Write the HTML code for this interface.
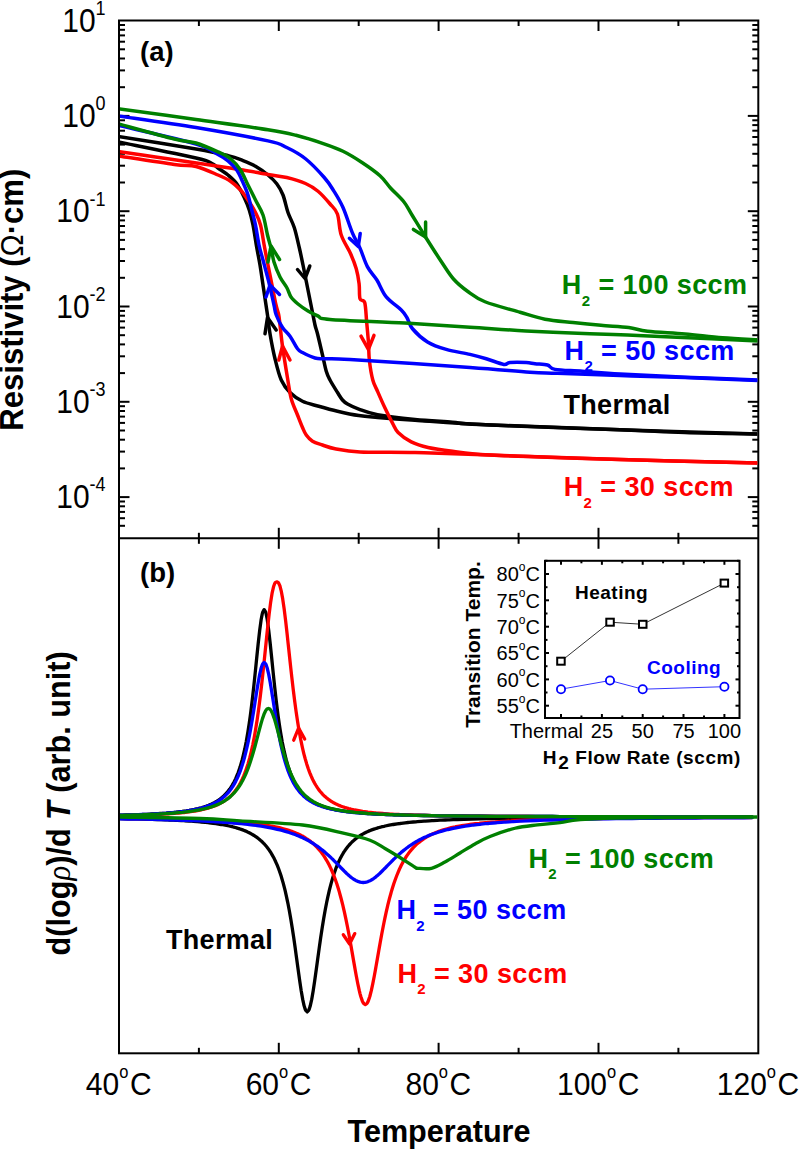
<!DOCTYPE html><html><head><meta charset="utf-8"><style>html,body{margin:0;padding:0;background:#fff;}svg{display:block;}text{font-family:"Liberation Sans",sans-serif;}</style></head><body>
<svg width="800" height="1150" viewBox="0 0 800 1150">
<rect width="800" height="1150" fill="#fff"/>
<defs><clipPath id="ca"><rect x="120.0" y="21.5" width="637.3" height="515.8"/></clipPath>
<clipPath id="cb"><rect x="120.0" y="539.3" width="637.3" height="513.0"/></clipPath></defs>
<g fill="none" stroke="#000" stroke-width="2">
<rect x="119.0" y="20.5" width="639.3" height="1032.8"/>
<line x1="119.0" y1="538.3" x2="758.3" y2="538.3"/>
<line x1="198.9" y1="20.5" x2="198.9" y2="26.0"/>
<line x1="198.9" y1="538.3" x2="198.9" y2="532.8"/>
<line x1="198.9" y1="538.3" x2="198.9" y2="543.8"/>
<line x1="198.9" y1="1053.3" x2="198.9" y2="1047.8"/>
<line x1="278.8" y1="20.5" x2="278.8" y2="31.0"/>
<line x1="278.8" y1="538.3" x2="278.8" y2="527.8"/>
<line x1="278.8" y1="538.3" x2="278.8" y2="548.8"/>
<line x1="278.8" y1="1053.3" x2="278.8" y2="1042.8"/>
<line x1="358.7" y1="20.5" x2="358.7" y2="26.0"/>
<line x1="358.7" y1="538.3" x2="358.7" y2="532.8"/>
<line x1="358.7" y1="538.3" x2="358.7" y2="543.8"/>
<line x1="358.7" y1="1053.3" x2="358.7" y2="1047.8"/>
<line x1="438.6" y1="20.5" x2="438.6" y2="31.0"/>
<line x1="438.6" y1="538.3" x2="438.6" y2="527.8"/>
<line x1="438.6" y1="538.3" x2="438.6" y2="548.8"/>
<line x1="438.6" y1="1053.3" x2="438.6" y2="1042.8"/>
<line x1="518.6" y1="20.5" x2="518.6" y2="26.0"/>
<line x1="518.6" y1="538.3" x2="518.6" y2="532.8"/>
<line x1="518.6" y1="538.3" x2="518.6" y2="543.8"/>
<line x1="518.6" y1="1053.3" x2="518.6" y2="1047.8"/>
<line x1="598.5" y1="20.5" x2="598.5" y2="31.0"/>
<line x1="598.5" y1="538.3" x2="598.5" y2="527.8"/>
<line x1="598.5" y1="538.3" x2="598.5" y2="548.8"/>
<line x1="598.5" y1="1053.3" x2="598.5" y2="1042.8"/>
<line x1="678.4" y1="20.5" x2="678.4" y2="26.0"/>
<line x1="678.4" y1="538.3" x2="678.4" y2="532.8"/>
<line x1="678.4" y1="538.3" x2="678.4" y2="543.8"/>
<line x1="678.4" y1="1053.3" x2="678.4" y2="1047.8"/>
<line x1="119.0" y1="87.2" x2="125.0" y2="87.2"/>
<line x1="758.3" y1="87.2" x2="752.3" y2="87.2"/>
<line x1="119.0" y1="70.4" x2="125.0" y2="70.4"/>
<line x1="758.3" y1="70.4" x2="752.3" y2="70.4"/>
<line x1="119.0" y1="58.5" x2="125.0" y2="58.5"/>
<line x1="758.3" y1="58.5" x2="752.3" y2="58.5"/>
<line x1="119.0" y1="49.3" x2="125.0" y2="49.3"/>
<line x1="758.3" y1="49.3" x2="752.3" y2="49.3"/>
<line x1="119.0" y1="41.7" x2="125.0" y2="41.7"/>
<line x1="758.3" y1="41.7" x2="752.3" y2="41.7"/>
<line x1="119.0" y1="35.4" x2="125.0" y2="35.4"/>
<line x1="758.3" y1="35.4" x2="752.3" y2="35.4"/>
<line x1="119.0" y1="29.8" x2="125.0" y2="29.8"/>
<line x1="758.3" y1="29.8" x2="752.3" y2="29.8"/>
<line x1="119.0" y1="25.0" x2="125.0" y2="25.0"/>
<line x1="758.3" y1="25.0" x2="752.3" y2="25.0"/>
<line x1="119.0" y1="115.9" x2="129.5" y2="115.9"/>
<line x1="758.3" y1="115.9" x2="747.8" y2="115.9"/>
<line x1="119.0" y1="182.5" x2="125.0" y2="182.5"/>
<line x1="758.3" y1="182.5" x2="752.3" y2="182.5"/>
<line x1="119.0" y1="165.7" x2="125.0" y2="165.7"/>
<line x1="758.3" y1="165.7" x2="752.3" y2="165.7"/>
<line x1="119.0" y1="153.8" x2="125.0" y2="153.8"/>
<line x1="758.3" y1="153.8" x2="752.3" y2="153.8"/>
<line x1="119.0" y1="144.6" x2="125.0" y2="144.6"/>
<line x1="758.3" y1="144.6" x2="752.3" y2="144.6"/>
<line x1="119.0" y1="137.0" x2="125.0" y2="137.0"/>
<line x1="758.3" y1="137.0" x2="752.3" y2="137.0"/>
<line x1="119.0" y1="130.7" x2="125.0" y2="130.7"/>
<line x1="758.3" y1="130.7" x2="752.3" y2="130.7"/>
<line x1="119.0" y1="125.1" x2="125.0" y2="125.1"/>
<line x1="758.3" y1="125.1" x2="752.3" y2="125.1"/>
<line x1="119.0" y1="120.3" x2="125.0" y2="120.3"/>
<line x1="758.3" y1="120.3" x2="752.3" y2="120.3"/>
<line x1="119.0" y1="211.2" x2="129.5" y2="211.2"/>
<line x1="758.3" y1="211.2" x2="747.8" y2="211.2"/>
<line x1="119.0" y1="277.8" x2="125.0" y2="277.8"/>
<line x1="758.3" y1="277.8" x2="752.3" y2="277.8"/>
<line x1="119.0" y1="261.0" x2="125.0" y2="261.0"/>
<line x1="758.3" y1="261.0" x2="752.3" y2="261.0"/>
<line x1="119.0" y1="249.1" x2="125.0" y2="249.1"/>
<line x1="758.3" y1="249.1" x2="752.3" y2="249.1"/>
<line x1="119.0" y1="239.9" x2="125.0" y2="239.9"/>
<line x1="758.3" y1="239.9" x2="752.3" y2="239.9"/>
<line x1="119.0" y1="232.3" x2="125.0" y2="232.3"/>
<line x1="758.3" y1="232.3" x2="752.3" y2="232.3"/>
<line x1="119.0" y1="226.0" x2="125.0" y2="226.0"/>
<line x1="758.3" y1="226.0" x2="752.3" y2="226.0"/>
<line x1="119.0" y1="220.4" x2="125.0" y2="220.4"/>
<line x1="758.3" y1="220.4" x2="752.3" y2="220.4"/>
<line x1="119.0" y1="215.6" x2="125.0" y2="215.6"/>
<line x1="758.3" y1="215.6" x2="752.3" y2="215.6"/>
<line x1="119.0" y1="306.5" x2="129.5" y2="306.5"/>
<line x1="758.3" y1="306.5" x2="747.8" y2="306.5"/>
<line x1="119.0" y1="373.1" x2="125.0" y2="373.1"/>
<line x1="758.3" y1="373.1" x2="752.3" y2="373.1"/>
<line x1="119.0" y1="356.3" x2="125.0" y2="356.3"/>
<line x1="758.3" y1="356.3" x2="752.3" y2="356.3"/>
<line x1="119.0" y1="344.4" x2="125.0" y2="344.4"/>
<line x1="758.3" y1="344.4" x2="752.3" y2="344.4"/>
<line x1="119.0" y1="335.2" x2="125.0" y2="335.2"/>
<line x1="758.3" y1="335.2" x2="752.3" y2="335.2"/>
<line x1="119.0" y1="327.6" x2="125.0" y2="327.6"/>
<line x1="758.3" y1="327.6" x2="752.3" y2="327.6"/>
<line x1="119.0" y1="321.3" x2="125.0" y2="321.3"/>
<line x1="758.3" y1="321.3" x2="752.3" y2="321.3"/>
<line x1="119.0" y1="315.7" x2="125.0" y2="315.7"/>
<line x1="758.3" y1="315.7" x2="752.3" y2="315.7"/>
<line x1="119.0" y1="310.9" x2="125.0" y2="310.9"/>
<line x1="758.3" y1="310.9" x2="752.3" y2="310.9"/>
<line x1="119.0" y1="401.8" x2="129.5" y2="401.8"/>
<line x1="758.3" y1="401.8" x2="747.8" y2="401.8"/>
<line x1="119.0" y1="468.4" x2="125.0" y2="468.4"/>
<line x1="758.3" y1="468.4" x2="752.3" y2="468.4"/>
<line x1="119.0" y1="451.6" x2="125.0" y2="451.6"/>
<line x1="758.3" y1="451.6" x2="752.3" y2="451.6"/>
<line x1="119.0" y1="439.7" x2="125.0" y2="439.7"/>
<line x1="758.3" y1="439.7" x2="752.3" y2="439.7"/>
<line x1="119.0" y1="430.5" x2="125.0" y2="430.5"/>
<line x1="758.3" y1="430.5" x2="752.3" y2="430.5"/>
<line x1="119.0" y1="422.9" x2="125.0" y2="422.9"/>
<line x1="758.3" y1="422.9" x2="752.3" y2="422.9"/>
<line x1="119.0" y1="416.6" x2="125.0" y2="416.6"/>
<line x1="758.3" y1="416.6" x2="752.3" y2="416.6"/>
<line x1="119.0" y1="411.0" x2="125.0" y2="411.0"/>
<line x1="758.3" y1="411.0" x2="752.3" y2="411.0"/>
<line x1="119.0" y1="406.2" x2="125.0" y2="406.2"/>
<line x1="758.3" y1="406.2" x2="752.3" y2="406.2"/>
<line x1="119.0" y1="497.1" x2="129.5" y2="497.1"/>
<line x1="758.3" y1="497.1" x2="747.8" y2="497.1"/>
<line x1="119.0" y1="525.8" x2="125.0" y2="525.8"/>
<line x1="758.3" y1="525.8" x2="752.3" y2="525.8"/>
<line x1="119.0" y1="518.2" x2="125.0" y2="518.2"/>
<line x1="758.3" y1="518.2" x2="752.3" y2="518.2"/>
<line x1="119.0" y1="511.9" x2="125.0" y2="511.9"/>
<line x1="758.3" y1="511.9" x2="752.3" y2="511.9"/>
<line x1="119.0" y1="506.3" x2="125.0" y2="506.3"/>
<line x1="758.3" y1="506.3" x2="752.3" y2="506.3"/>
<line x1="119.0" y1="501.5" x2="125.0" y2="501.5"/>
<line x1="758.3" y1="501.5" x2="752.3" y2="501.5"/>
</g>
<g clip-path="url(#ca)" fill="none" stroke-width="3.5" stroke-linejoin="round" stroke-linecap="round">
<path d="M119.00,142.00 C131.83,144.67 180.50,154.42 196.00,158.00 C211.50,161.58 208.33,161.83 212.00,163.50 C215.67,165.17 215.33,166.08 218.00,168.00 C220.67,169.92 224.88,172.38 228.00,175.00 C231.12,177.62 234.04,180.00 236.75,183.75 C239.46,187.50 242.17,193.12 244.25,197.50 C246.33,201.88 247.79,205.42 249.25,210.00 C250.71,214.58 251.75,218.75 253.00,225.00 C254.25,231.25 255.58,240.83 256.75,247.50 C257.92,254.17 258.96,258.75 260.00,265.00 C261.04,271.25 262.00,278.33 263.00,285.00 C264.00,291.67 265.25,300.00 266.00,305.00 C266.75,310.00 266.83,310.21 267.50,315.00 C268.17,319.79 268.75,326.46 270.00,333.75 C271.25,341.04 273.12,351.04 275.00,358.75 C276.88,366.46 278.75,374.38 281.25,380.00 C283.75,385.62 286.46,388.96 290.00,392.50 C293.54,396.04 297.71,398.96 302.50,401.25 C307.29,403.54 312.92,404.58 318.75,406.25 C324.58,407.92 330.83,409.69 337.50,411.25 C344.17,412.81 352.08,414.56 358.75,415.60 C365.42,416.64 368.12,416.72 377.50,417.50 C386.88,418.28 396.25,419.05 415.00,420.30 C433.75,421.55 455.83,423.43 490.00,425.00 C524.17,426.57 575.33,428.25 620.00,429.75 C664.67,431.25 735.00,433.29 758.00,434.00" stroke="#000000"/>
<path d="M119.00,136.50 C131.83,138.58 177.83,145.82 196.00,149.00 C214.17,152.18 220.17,153.67 228.00,155.60 C235.83,157.53 238.42,158.82 243.00,160.60 C247.58,162.38 251.33,163.85 255.50,166.25 C259.67,168.65 264.46,172.08 268.00,175.00 C271.54,177.92 274.25,180.42 276.75,183.75 C279.25,187.08 281.12,190.21 283.00,195.00 C284.88,199.79 286.12,207.08 288.00,212.50 C289.88,217.92 292.38,221.67 294.25,227.50 C296.12,233.33 297.79,241.25 299.25,247.50 C300.71,253.75 301.96,260.00 303.00,265.00 C304.04,270.00 304.75,273.75 305.50,277.50 C306.25,281.25 306.42,282.08 307.50,287.50 C308.58,292.92 310.75,303.75 312.00,310.00 C313.25,316.25 314.08,321.04 315.00,325.00 C315.92,328.96 316.25,328.75 317.50,333.75 C318.75,338.75 321.04,348.75 322.50,355.00 C323.96,361.25 325.00,367.08 326.25,371.25 C327.50,375.42 328.12,376.46 330.00,380.00 C331.88,383.54 335.42,389.17 337.50,392.50 C339.58,395.83 340.83,398.08 342.50,400.00 C344.17,401.92 344.79,402.48 347.50,404.00 C350.21,405.52 353.75,407.32 358.75,409.10 C363.75,410.88 368.12,412.98 377.50,414.70 C386.88,416.42 402.50,418.15 415.00,419.40 C427.50,420.65 441.67,421.35 452.50,422.20 C463.33,423.05 452.08,423.24 480.00,424.50 C507.92,425.76 585.83,428.42 620.00,429.75 C654.17,431.08 662.00,431.79 685.00,432.50 C708.00,433.21 745.83,433.75 758.00,434.00" stroke="#000000"/>
<path d="M119.00,156.00 C128.22,157.40 161.47,162.65 174.30,164.40 C187.13,166.15 188.72,164.73 196.00,166.50 C203.28,168.27 212.25,172.54 218.00,175.00 C223.75,177.46 226.75,178.75 230.50,181.25 C234.25,183.75 237.58,186.88 240.50,190.00 C243.42,193.12 245.50,196.25 248.00,200.00 C250.50,203.75 253.42,208.33 255.50,212.50 C257.58,216.67 259.00,219.25 260.50,225.00 C262.00,230.75 263.25,240.33 264.50,247.00 C265.75,253.67 266.75,258.67 268.00,265.00 C269.25,271.33 270.67,278.33 272.00,285.00 C273.33,291.67 274.88,300.00 276.00,305.00 C277.12,310.00 278.08,311.67 278.75,315.00 C279.42,318.33 279.38,319.79 280.00,325.00 C280.62,330.21 281.25,337.42 282.50,346.25 C283.75,355.08 286.04,369.25 287.50,378.00 C288.96,386.75 289.58,392.58 291.25,398.75 C292.92,404.92 295.62,410.21 297.50,415.00 C299.38,419.79 301.04,424.17 302.50,427.50 C303.96,430.83 304.58,432.71 306.25,435.00 C307.92,437.29 309.79,439.58 312.50,441.25 C315.21,442.92 318.75,443.75 322.50,445.00 C326.25,446.25 328.75,447.60 335.00,448.75 C341.25,449.90 346.67,451.29 360.00,451.90 C373.33,452.51 393.33,451.88 415.00,452.40 C436.67,452.92 455.83,453.82 490.00,455.00 C524.17,456.18 575.33,458.17 620.00,459.50 C664.67,460.83 735.00,462.42 758.00,463.00" stroke="#ff0000"/>
<path d="M119.00,151.50 C125.08,152.40 143.17,155.07 155.50,156.90 C167.83,158.73 182.58,160.94 193.00,162.50 C203.42,164.06 209.67,165.00 218.00,166.25 C226.33,167.50 234.67,168.62 243.00,170.00 C251.33,171.38 260.71,173.25 268.00,174.50 C275.29,175.75 280.50,176.00 286.75,177.50 C293.00,179.00 300.29,181.21 305.50,183.50 C310.71,185.79 313.93,187.88 318.00,191.25 C322.07,194.62 326.67,199.96 329.90,203.75 C333.13,207.54 335.51,208.79 337.40,214.00 C339.29,219.21 339.05,228.38 341.25,235.00 C343.45,241.62 348.10,248.12 350.60,253.75 C353.10,259.38 354.83,263.75 356.25,268.75 C357.67,273.75 358.48,278.75 359.10,283.75 C359.73,288.75 359.07,295.62 360.00,298.75 C360.93,301.88 363.60,298.75 364.70,302.50 C365.80,306.25 365.98,314.68 366.60,321.25 C367.22,327.82 367.93,335.34 368.40,341.90 C368.87,348.46 368.67,354.25 369.40,360.60 C370.13,366.95 371.45,374.89 372.80,380.00 C374.15,385.11 375.47,386.57 377.50,391.25 C379.53,395.93 382.50,402.79 385.00,408.10 C387.50,413.41 390.32,419.03 392.50,423.10 C394.68,427.17 394.98,429.37 398.10,432.50 C401.23,435.63 406.25,439.40 411.25,441.90 C416.25,444.40 421.23,445.94 428.10,447.50 C434.98,449.06 442.18,450.00 452.50,451.25 C462.82,452.50 462.08,453.62 490.00,455.00 C517.92,456.38 575.33,458.17 620.00,459.50 C664.67,460.83 735.00,462.42 758.00,463.00" stroke="#ff0000"/>
<path d="M119.00,125.50 C131.83,128.58 179.50,139.17 196.00,144.00 C212.50,148.83 212.67,151.70 218.00,154.50 C223.33,157.30 224.88,158.22 228.00,160.80 C231.12,163.38 234.25,166.38 236.75,170.00 C239.25,173.62 241.12,178.33 243.00,182.50 C244.88,186.67 246.54,190.42 248.00,195.00 C249.46,199.58 250.50,205.00 251.75,210.00 C253.00,215.00 254.29,219.17 255.50,225.00 C256.71,230.83 257.75,239.17 259.00,245.00 C260.25,250.83 261.67,255.00 263.00,260.00 C264.33,265.00 265.83,270.50 267.00,275.00 C268.17,279.50 268.83,282.00 270.00,287.00 C271.17,292.00 272.96,300.33 274.00,305.00 C275.04,309.67 274.83,311.25 276.25,315.00 C277.67,318.75 280.21,323.96 282.50,327.50 C284.79,331.04 287.50,332.71 290.00,336.25 C292.50,339.79 295.42,346.04 297.50,348.75 C299.58,351.46 299.58,350.96 302.50,352.50 C305.42,354.04 311.25,356.96 315.00,358.00 C318.75,359.04 319.17,358.52 325.00,358.75 C330.83,358.98 325.83,357.94 350.00,359.40 C374.17,360.86 440.00,365.36 470.00,367.50 C500.00,369.64 515.42,371.28 530.00,372.25 C544.58,373.22 542.50,372.76 557.50,373.30 C572.50,373.84 598.75,374.78 620.00,375.50 C641.25,376.22 662.00,376.77 685.00,377.60 C708.00,378.43 745.83,380.02 758.00,380.50" stroke="#0000ff"/>
<path d="M119.00,116.00 C131.83,117.92 171.17,123.35 196.00,127.50 C220.83,131.65 252.88,137.57 268.00,140.90 C283.12,144.23 280.50,144.53 286.75,147.50 C293.00,150.47 299.25,153.75 305.50,158.75 C311.75,163.75 319.57,172.19 324.25,177.50 C328.93,182.81 330.48,185.60 333.60,190.60 C336.73,195.60 339.85,200.42 343.00,207.50 C346.15,214.58 349.67,226.33 352.50,233.10 C355.33,239.87 357.50,242.47 360.00,248.10 C362.50,253.73 364.68,261.58 367.50,266.90 C370.32,272.22 373.77,275.00 376.90,280.00 C380.02,285.00 382.19,291.90 386.25,296.90 C390.31,301.90 397.81,306.57 401.25,310.00 C404.69,313.43 405.02,314.38 406.90,317.50 C408.77,320.62 409.07,324.68 412.50,328.75 C415.93,332.82 421.88,338.46 427.50,341.90 C433.12,345.34 439.17,347.32 446.25,349.40 C453.33,351.48 463.33,352.84 470.00,354.40 C476.67,355.96 480.62,357.08 486.25,358.75 C491.88,360.42 499.79,363.77 503.75,364.40 C507.71,365.02 506.25,362.82 510.00,362.50 C513.75,362.18 522.08,362.29 526.25,362.50 C530.42,362.71 531.46,363.33 535.00,363.75 C538.54,364.17 544.17,364.06 547.50,365.00 C550.83,365.94 549.17,368.36 555.00,369.40 C560.83,370.44 571.67,370.47 582.50,371.25 C593.33,372.03 602.92,373.11 620.00,374.10 C637.08,375.09 662.00,376.22 685.00,377.20 C708.00,378.18 745.83,379.53 758.00,380.00" stroke="#0000ff"/>
<path d="M119.00,124.00 C128.22,126.50 161.47,135.83 174.30,139.00 C187.13,142.17 188.72,140.85 196.00,143.00 C203.28,145.15 212.25,149.28 218.00,151.90 C223.75,154.53 226.75,155.73 230.50,158.75 C234.25,161.77 237.58,165.62 240.50,170.00 C243.42,174.38 245.50,180.00 248.00,185.00 C250.50,190.00 253.00,195.00 255.50,200.00 C258.00,205.00 261.00,209.17 263.00,215.00 C265.00,220.83 266.08,229.17 267.50,235.00 C268.92,240.83 270.42,245.50 271.50,250.00 C272.58,254.50 272.58,257.50 274.00,262.00 C275.42,266.50 277.83,272.67 280.00,277.00 C282.17,281.33 285.17,284.67 287.00,288.00 C288.83,291.33 289.17,294.33 291.00,297.00 C292.83,299.67 295.17,301.67 298.00,304.00 C300.83,306.33 304.67,309.00 308.00,311.00 C311.33,313.00 314.33,314.60 318.00,316.00 C321.67,317.40 315.50,318.22 330.00,319.40 C344.50,320.58 381.67,321.80 405.00,323.10 C428.33,324.40 449.83,325.90 470.00,327.20 C490.17,328.50 506.00,329.81 526.00,330.90 C546.00,331.99 573.08,333.07 590.00,333.75 C606.92,334.43 614.00,334.48 627.50,335.00 C641.00,335.52 649.25,335.90 671.00,336.90 C692.75,337.90 743.50,340.32 758.00,341.00" stroke="#008000"/>
<path d="M119.00,108.80 C131.83,110.58 171.17,116.02 196.00,119.50 C220.83,122.98 251.33,127.07 268.00,129.70 C284.67,132.33 286.67,132.95 296.00,135.30 C305.33,137.65 316.17,141.13 324.00,143.80 C331.83,146.47 336.67,148.18 343.00,151.30 C349.33,154.42 355.83,158.43 362.00,162.50 C368.17,166.57 375.25,171.50 380.00,175.75 C384.75,180.00 386.50,183.62 390.50,188.00 C394.50,192.38 400.42,197.50 404.00,202.00 C407.58,206.50 408.42,209.17 412.00,215.00 C415.58,220.83 420.62,229.25 425.50,237.00 C430.38,244.75 436.58,254.50 441.25,261.50 C445.92,268.50 449.12,274.04 453.50,279.00 C457.88,283.96 462.25,287.46 467.50,291.25 C472.75,295.04 476.25,298.25 485.00,301.75 C493.75,305.25 510.00,309.34 520.00,312.25 C530.00,315.16 536.17,317.49 545.00,319.20 C553.83,320.91 563.67,321.48 573.00,322.50 C582.33,323.52 591.71,324.47 601.00,325.30 C610.29,326.13 621.00,326.51 628.75,327.50 C636.50,328.49 638.12,330.17 647.50,331.25 C656.88,332.33 672.50,332.91 685.00,334.00 C697.50,335.09 710.33,336.85 722.50,337.80 C734.67,338.75 752.08,339.38 758.00,339.70" stroke="#008000"/>
<path d="M268.0,262.0 L271.0,246.0 L279.5,259.5" stroke="#008000"/>
<path d="M297.5,269.5 L305.0,278.5 L309.8,266.0" stroke="#000000"/>
<path d="M266.0,297.0 L270.0,285.0 L279.5,294.5" stroke="#0000ff"/>
<path d="M265.0,333.8 L267.5,317.5 L276.2,330.0" stroke="#000000"/>
<path d="M278.8,360.0 L282.5,346.2 L290.0,360.0" stroke="#ff0000"/>
<path d="M349.4,238.3 L358.3,246.5 L360.2,233.5" stroke="#0000ff"/>
<path d="M413.4,229.4 L425.6,236.9 L425.6,221.9" stroke="#008000"/>
<path d="M361.0,336.2 L368.4,349.4 L374.0,335.3" stroke="#ff0000"/>
</g>
<g clip-path="url(#cb)" fill="none" stroke-width="3.3" stroke-linejoin="round" stroke-linecap="round">
<path d="M120.0,818.6 L128.0,818.8 L136.0,818.9 L144.0,819.1 L152.0,819.4 L157.2,819.5 L160.0,819.6 L161.2,819.7 L165.2,819.8 L168.0,819.9 L169.2,820.0 L173.2,820.2 L176.0,820.3 L177.2,820.4 L181.2,820.6 L184.0,820.7 L185.2,820.8 L189.2,821.1 L192.0,821.2 L193.2,821.3 L197.2,821.7 L200.0,821.9 L201.2,822.0 L205.2,822.4 L208.0,822.7 L209.2,822.8 L213.2,823.3 L216.0,823.7 L217.2,823.9 L221.2,824.5 L224.0,825.0 L225.2,825.2 L229.2,826.0 L232.0,826.7 L232.2,826.7 L233.2,827.0 L233.7,827.1 L235.2,827.5 L236.7,827.9 L237.2,828.1 L238.2,828.4 L239.7,828.9 L240.0,829.0 L241.2,829.4 L242.7,829.9 L244.2,830.5 L245.2,830.9 L245.7,831.1 L247.2,831.8 L248.0,832.2 L248.7,832.5 L249.2,832.8 L250.2,833.3 L251.7,834.1 L253.2,835.0 L254.7,835.9 L256.0,836.8 L256.2,836.9 L257.2,837.6 L257.7,838.0 L259.2,839.2 L260.7,840.5 L261.2,840.9 L262.2,841.8 L263.7,843.4 L264.0,843.7 L265.2,845.0 L266.7,846.8 L268.2,848.7 L269.2,850.1 L269.7,850.9 L271.2,853.2 L272.0,854.6 L272.7,855.8 L273.2,856.7 L274.2,858.6 L275.7,861.8 L277.2,865.2 L278.7,869.0 L280.0,872.7 L280.2,873.3 L281.2,876.3 L281.7,877.9 L283.2,883.1 L284.7,888.9 L285.2,890.9 L286.2,895.3 L287.7,902.3 L288.0,903.8 L289.2,910.0 L290.7,918.5 L292.2,927.7 L293.2,934.2 L293.7,937.6 L295.2,948.1 L296.0,953.9 L296.7,959.0 L297.2,962.7 L298.2,970.0 L299.7,980.8 L301.2,990.8 L302.7,999.4 L304.0,1005.4 L304.2,1006.1 L305.2,1009.3 L305.7,1010.4 L307.2,1011.9 L308.7,1010.4 L309.2,1009.3 L310.2,1006.1 L311.7,999.4 L312.0,997.8 L313.2,990.8 L314.7,980.8 L316.2,970.0 L317.2,962.7 L317.7,959.0 L319.2,948.1 L320.0,942.4 L320.7,937.6 L321.2,934.2 L322.2,927.7 L323.7,918.5 L325.2,910.0 L326.7,902.3 L328.0,896.2 L328.2,895.3 L329.2,890.9 L329.7,888.9 L331.2,883.1 L332.7,877.9 L333.2,876.3 L334.2,873.3 L335.7,869.0 L336.0,868.2 L337.2,865.2 L338.7,861.8 L340.2,858.6 L341.2,856.7 L341.7,855.8 L343.2,853.2 L344.0,851.9 L344.7,850.9 L345.2,850.1 L346.2,848.7 L347.7,846.8 L349.2,845.0 L350.7,843.4 L352.0,842.0 L352.2,841.8 L353.2,840.9 L353.7,840.5 L355.2,839.2 L356.7,838.0 L357.2,837.6 L358.2,836.9 L359.7,835.9 L360.0,835.7 L361.2,835.0 L362.7,834.1 L364.2,833.3 L365.2,832.8 L365.7,832.5 L367.2,831.8 L368.0,831.4 L368.7,831.1 L369.2,830.9 L370.2,830.5 L371.7,829.9 L373.2,829.4 L374.7,828.9 L376.0,828.5 L376.2,828.4 L377.2,828.1 L377.7,827.9 L379.2,827.5 L380.7,827.1 L381.2,827.0 L382.2,826.7 L384.0,826.3 L385.2,826.0 L389.2,825.2 L392.0,824.7 L393.2,824.5 L397.2,823.9 L400.0,823.5 L401.2,823.3 L405.2,822.8 L408.0,822.5 L409.2,822.4 L413.2,822.0 L416.0,821.8 L417.2,821.7 L421.2,821.3 L424.0,821.1 L425.2,821.1 L429.2,820.8 L432.0,820.6 L433.2,820.6 L437.2,820.4 L440.0,820.2 L441.2,820.2 L445.2,820.0 L448.0,819.9 L449.2,819.8 L453.2,819.7 L456.0,819.6 L457.2,819.5 L464.0,819.3 L472.0,819.1 L480.0,818.9 L488.0,818.7 L496.0,818.6 L504.0,818.5 L512.0,818.4 L520.0,818.3 L528.0,818.2 L536.0,818.1 L544.0,818.0 L552.0,818.0 L560.0,817.9 L568.0,817.8 L576.0,817.8 L584.0,817.7 L592.0,817.7 L600.0,817.7 L608.0,817.6 L616.0,817.6 L624.0,817.6 L632.0,817.5 L640.0,817.5 L648.0,817.5 L656.0,817.5 L664.0,817.5 L672.0,817.4 L680.0,817.4 L688.0,817.4 L696.0,817.4 L704.0,817.4 L712.0,817.4 L720.0,817.3 L728.0,817.3 L736.0,817.3 L744.0,817.3 L752.0,817.3" stroke="#000000"/>
<path d="M120.0,815.2 L122.2,815.1 L126.2,815.0 L128.0,815.0 L130.2,814.9 L134.2,814.8 L136.0,814.7 L138.2,814.6 L142.2,814.5 L144.0,814.4 L146.2,814.3 L150.2,814.1 L152.0,814.0 L154.2,813.9 L158.2,813.6 L160.0,813.5 L162.2,813.4 L166.2,813.1 L168.0,812.9 L170.2,812.7 L174.2,812.4 L176.0,812.2 L178.2,811.9 L182.2,811.5 L184.0,811.2 L186.2,810.9 L189.2,810.4 L190.2,810.2 L190.7,810.1 L192.0,809.9 L192.2,809.9 L193.7,809.6 L194.2,809.5 L195.2,809.2 L196.7,808.9 L198.2,808.6 L199.7,808.2 L200.0,808.1 L201.2,807.8 L202.2,807.5 L202.7,807.3 L204.2,806.9 L205.7,806.4 L206.2,806.2 L207.2,805.8 L208.0,805.5 L208.7,805.3 L210.2,804.6 L211.7,804.0 L213.2,803.2 L214.2,802.7 L214.7,802.5 L216.0,801.7 L216.2,801.6 L217.7,800.7 L218.2,800.3 L219.2,799.7 L220.7,798.5 L222.2,797.3 L223.7,796.0 L224.0,795.7 L225.2,794.5 L226.2,793.5 L226.7,792.9 L228.2,791.1 L229.7,789.1 L230.2,788.4 L231.2,786.9 L232.0,785.6 L232.7,784.4 L234.2,781.7 L235.7,778.6 L237.2,775.0 L238.2,772.5 L238.7,771.1 L240.0,767.2 L240.2,766.6 L241.7,761.5 L242.2,759.7 L243.2,755.7 L244.7,749.2 L246.2,741.7 L247.7,733.1 L248.0,731.3 L249.2,723.5 L250.2,716.4 L250.7,712.6 L252.2,700.4 L253.7,687.1 L254.2,682.4 L255.2,672.8 L256.0,665.0 L256.7,658.0 L258.2,643.5 L259.7,630.2 L261.2,619.3 L262.2,614.1 L262.7,612.2 L264.0,609.7 L264.2,609.7 L265.7,612.2 L266.2,614.1 L267.2,619.3 L268.7,630.2 L270.2,643.5 L271.7,658.0 L272.0,661.0 L273.2,672.8 L274.2,682.4 L274.7,687.1 L276.2,700.4 L277.7,712.6 L278.2,716.4 L279.2,723.5 L280.0,728.8 L280.7,733.1 L282.2,741.7 L283.7,749.2 L285.2,755.7 L286.2,759.7 L286.7,761.5 L288.0,766.0 L288.2,766.6 L289.7,771.1 L290.2,772.5 L291.2,775.0 L292.7,778.6 L294.2,781.7 L295.7,784.4 L296.0,784.9 L297.2,786.9 L298.2,788.4 L298.7,789.1 L300.2,791.1 L301.7,792.9 L302.2,793.5 L303.2,794.5 L304.0,795.3 L304.7,796.0 L306.2,797.3 L307.7,798.5 L309.2,799.7 L310.2,800.3 L310.7,800.7 L312.0,801.5 L312.2,801.6 L313.7,802.5 L314.2,802.7 L315.2,803.2 L316.7,804.0 L318.2,804.6 L319.7,805.3 L320.0,805.4 L321.2,805.8 L322.2,806.2 L322.7,806.4 L324.2,806.9 L325.7,807.3 L326.2,807.5 L327.2,807.8 L328.0,808.0 L328.7,808.2 L330.2,808.6 L331.7,808.9 L333.2,809.2 L334.2,809.5 L334.7,809.6 L336.0,809.8 L336.2,809.9 L337.7,810.1 L338.2,810.2 L339.2,810.4 L342.2,810.9 L344.0,811.1 L346.2,811.5 L350.2,811.9 L352.0,812.1 L354.2,812.4 L358.2,812.7 L360.0,812.9 L362.2,813.1 L366.2,813.4 L368.0,813.5 L370.2,813.6 L374.2,813.9 L376.0,814.0 L378.2,814.1 L382.2,814.3 L384.0,814.4 L386.2,814.5 L390.2,814.6 L392.0,814.7 L394.2,814.8 L398.2,814.9 L400.0,814.9 L402.2,815.0 L406.2,815.1 L408.0,815.2 L410.2,815.2 L414.2,815.3 L416.0,815.3 L424.0,815.5 L432.0,815.6 L440.0,815.8 L448.0,815.9 L456.0,816.0 L464.0,816.0 L472.0,816.1 L480.0,816.2 L488.0,816.2 L496.0,816.3 L504.0,816.3 L512.0,816.4 L520.0,816.4 L528.0,816.5 L536.0,816.5 L544.0,816.5 L552.0,816.5 L560.0,816.6 L568.0,816.6 L576.0,816.6 L584.0,816.6 L592.0,816.6 L600.0,816.7 L608.0,816.7 L616.0,816.7 L624.0,816.7 L632.0,816.7 L640.0,816.7 L648.0,816.7 L656.0,816.8 L664.0,816.8 L672.0,816.8 L680.0,816.8 L688.0,816.8 L696.0,816.8 L704.0,816.8 L712.0,816.8 L720.0,816.8 L728.0,816.8 L736.0,816.8 L744.0,816.8 L752.0,816.8" stroke="#000000"/>
<path d="M120.0,818.4 L128.0,818.5 L136.0,818.6 L144.0,818.7 L152.0,818.8 L160.0,819.0 L168.0,819.1 L176.0,819.3 L184.0,819.5 L192.0,819.8 L200.0,820.0 L208.0,820.3 L215.3,820.7 L216.0,820.7 L219.3,820.9 L223.3,821.1 L224.0,821.1 L227.3,821.3 L231.3,821.6 L232.0,821.6 L235.3,821.9 L239.3,822.2 L240.0,822.2 L243.3,822.5 L247.3,822.9 L248.0,822.9 L251.3,823.3 L255.3,823.7 L256.0,823.8 L259.3,824.2 L263.3,824.8 L264.0,824.9 L267.3,825.4 L271.3,826.1 L272.0,826.2 L275.3,826.9 L279.3,827.7 L280.0,827.9 L283.3,828.8 L287.3,829.9 L288.0,830.1 L290.3,830.9 L291.3,831.2 L291.8,831.4 L293.3,832.0 L294.8,832.6 L295.3,832.8 L296.0,833.1 L296.3,833.2 L297.8,833.8 L299.3,834.5 L300.8,835.3 L302.3,836.1 L303.3,836.6 L303.8,836.9 L304.0,837.0 L305.3,837.8 L306.8,838.8 L307.3,839.1 L308.3,839.8 L309.8,840.9 L311.3,842.1 L312.0,842.6 L312.8,843.3 L314.3,844.6 L315.3,845.6 L315.8,846.1 L317.3,847.6 L318.8,849.3 L319.3,849.9 L320.0,850.7 L320.3,851.1 L321.8,853.0 L323.3,855.1 L324.8,857.3 L326.3,859.8 L327.3,861.5 L327.8,862.4 L328.0,862.8 L329.3,865.3 L330.8,868.4 L331.3,869.5 L332.3,871.8 L333.8,875.5 L335.3,879.5 L336.0,881.5 L336.8,883.8 L338.3,888.5 L339.3,891.9 L339.8,893.7 L341.3,899.2 L342.8,905.2 L343.3,907.3 L344.0,910.4 L344.3,911.7 L345.8,918.6 L347.3,926.0 L348.8,933.8 L350.3,942.0 L351.3,947.6 L351.8,950.5 L352.0,951.6 L353.3,959.1 L354.8,967.6 L355.3,970.5 L356.3,976.0 L357.8,983.7 L359.3,990.7 L360.0,993.6 L360.8,996.5 L362.3,1000.9 L363.3,1002.9 L363.8,1003.7 L365.3,1004.6 L366.8,1003.7 L367.3,1002.9 L368.0,1001.6 L368.3,1000.9 L369.8,996.5 L371.3,990.7 L372.8,983.7 L374.3,976.0 L375.3,970.5 L375.8,967.6 L376.0,966.5 L377.3,959.1 L378.8,950.5 L379.3,947.6 L380.3,942.0 L381.8,933.8 L383.3,926.0 L384.0,922.5 L384.8,918.6 L386.3,911.7 L387.3,907.3 L387.8,905.2 L389.3,899.2 L390.8,893.7 L391.3,891.9 L392.0,889.5 L392.3,888.5 L393.8,883.8 L395.3,879.5 L396.8,875.5 L398.3,871.8 L399.3,869.5 L399.8,868.4 L400.0,868.0 L401.3,865.3 L402.8,862.4 L403.3,861.5 L404.3,859.8 L405.8,857.3 L407.3,855.1 L408.0,854.1 L408.8,853.0 L410.3,851.1 L411.3,849.9 L411.8,849.3 L413.3,847.6 L414.8,846.1 L415.3,845.6 L416.0,844.9 L416.3,844.6 L417.8,843.3 L419.3,842.1 L420.8,840.9 L422.3,839.8 L423.3,839.1 L423.8,838.8 L424.0,838.6 L425.3,837.8 L426.8,836.9 L427.3,836.6 L428.3,836.1 L429.8,835.3 L431.3,834.5 L432.0,834.2 L432.8,833.8 L434.3,833.2 L435.3,832.8 L435.8,832.6 L437.3,832.0 L438.8,831.4 L439.3,831.2 L440.0,831.0 L440.3,830.9 L443.3,829.9 L447.3,828.8 L448.0,828.6 L451.3,827.7 L455.3,826.9 L456.0,826.7 L459.3,826.1 L463.3,825.4 L464.0,825.3 L467.3,824.8 L471.3,824.2 L472.0,824.1 L475.3,823.7 L479.3,823.3 L480.0,823.2 L483.3,822.9 L487.3,822.5 L488.0,822.4 L491.3,822.2 L495.3,821.9 L496.0,821.8 L499.3,821.6 L503.3,821.3 L504.0,821.3 L507.3,821.1 L511.3,820.9 L512.0,820.8 L515.3,820.7 L520.0,820.5 L528.0,820.1 L536.0,819.8 L544.0,819.6 L552.0,819.4 L560.0,819.2 L568.0,819.0 L576.0,818.9 L584.0,818.7 L592.0,818.6 L600.0,818.5 L608.0,818.4 L616.0,818.3 L624.0,818.3 L632.0,818.2 L640.0,818.1 L648.0,818.0 L656.0,818.0 L664.0,817.9 L672.0,817.9 L680.0,817.8 L688.0,817.8 L696.0,817.8 L704.0,817.7 L712.0,817.7 L720.0,817.7 L728.0,817.6 L736.0,817.6 L744.0,817.6 L752.0,817.6" stroke="#ff0000"/>
<path d="M120.0,815.6 L126.7,815.5 L128.0,815.4 L130.7,815.4 L134.7,815.3 L136.0,815.2 L138.7,815.2 L142.7,815.0 L144.0,815.0 L146.7,814.9 L150.7,814.7 L152.0,814.7 L154.7,814.6 L158.7,814.4 L160.0,814.3 L162.7,814.2 L166.7,813.9 L168.0,813.8 L170.7,813.6 L174.7,813.3 L176.0,813.2 L178.7,813.0 L182.7,812.6 L184.0,812.5 L186.7,812.1 L190.7,811.6 L192.0,811.4 L194.7,811.0 L198.7,810.3 L200.0,810.1 L201.7,809.7 L202.7,809.5 L203.2,809.4 L204.7,809.0 L206.2,808.6 L206.7,808.5 L207.7,808.2 L208.0,808.1 L209.2,807.8 L210.7,807.3 L212.2,806.8 L213.7,806.3 L214.7,805.9 L215.2,805.7 L216.0,805.4 L216.7,805.1 L218.2,804.4 L218.7,804.1 L219.7,803.6 L221.2,802.8 L222.7,802.0 L224.0,801.2 L224.2,801.0 L225.7,800.0 L226.7,799.3 L227.2,798.9 L228.7,797.7 L230.2,796.4 L230.7,795.9 L231.7,794.9 L232.0,794.6 L233.2,793.3 L234.7,791.5 L236.2,789.5 L237.7,787.4 L238.7,785.8 L239.2,785.0 L240.0,783.6 L240.7,782.3 L242.2,779.3 L242.7,778.2 L243.7,775.9 L245.2,772.2 L246.7,767.9 L248.0,763.9 L248.2,763.2 L249.7,757.9 L250.7,754.0 L251.2,751.9 L252.7,745.1 L254.2,737.5 L254.7,734.7 L255.7,728.9 L256.0,727.1 L257.2,719.4 L258.7,708.7 L260.2,697.0 L261.7,684.2 L262.7,675.1 L263.2,670.4 L264.0,662.8 L264.7,656.0 L266.2,641.4 L266.7,636.5 L267.7,627.0 L269.2,613.6 L270.7,601.9 L272.0,593.7 L272.2,592.6 L273.7,586.2 L274.7,583.5 L275.2,582.7 L276.7,581.8 L278.2,582.5 L278.7,583.2 L279.7,585.4 L280.0,586.2 L281.2,590.8 L282.7,598.9 L284.2,609.2 L285.7,621.4 L286.7,630.3 L287.2,634.8 L288.0,642.3 L288.7,648.8 L290.2,662.8 L290.7,667.4 L291.7,676.4 L293.2,689.3 L294.7,701.3 L296.0,710.9 L296.2,712.3 L297.7,722.3 L298.7,728.4 L299.2,731.3 L300.7,739.4 L302.2,746.6 L302.7,748.9 L303.7,753.1 L304.0,754.3 L305.2,758.8 L306.7,763.9 L308.2,768.5 L309.7,772.6 L310.7,775.0 L311.2,776.2 L312.0,778.0 L312.7,779.5 L314.2,782.4 L314.7,783.3 L315.7,785.0 L317.2,787.4 L318.7,789.6 L320.0,791.2 L320.2,791.5 L321.7,793.2 L322.7,794.3 L323.2,794.8 L324.7,796.3 L326.2,797.6 L326.7,798.0 L327.7,798.8 L328.0,799.1 L329.2,799.9 L330.7,801.0 L332.2,801.9 L333.7,802.8 L334.7,803.3 L335.2,803.6 L336.0,804.0 L336.7,804.3 L338.2,805.0 L338.7,805.2 L339.7,805.6 L341.2,806.2 L342.7,806.7 L344.0,807.2 L344.2,807.2 L345.7,807.7 L346.7,808.0 L347.2,808.1 L348.7,808.6 L350.2,808.9 L350.7,809.1 L351.7,809.3 L352.0,809.4 L354.7,810.0 L358.7,810.7 L360.0,810.9 L362.7,811.4 L366.7,811.9 L368.0,812.1 L370.7,812.4 L374.7,812.8 L376.0,813.0 L378.7,813.2 L382.7,813.5 L384.0,813.6 L386.7,813.8 L390.7,814.1 L392.0,814.1 L394.7,814.3 L398.7,814.5 L400.0,814.6 L402.7,814.7 L406.7,814.8 L408.0,814.9 L410.7,815.0 L414.7,815.1 L416.0,815.2 L418.7,815.2 L422.7,815.3 L424.0,815.4 L426.7,815.4 L432.0,815.6 L440.0,815.7 L448.0,815.9 L456.0,816.0 L464.0,816.1 L472.0,816.2 L480.0,816.2 L488.0,816.3 L496.0,816.4 L504.0,816.4 L512.0,816.5 L520.0,816.5 L528.0,816.5 L536.0,816.6 L544.0,816.6 L552.0,816.6 L560.0,816.7 L568.0,816.7 L576.0,816.7 L584.0,816.7 L592.0,816.7 L600.0,816.7 L608.0,816.8 L616.0,816.8 L624.0,816.8 L632.0,816.8 L640.0,816.8 L648.0,816.8 L656.0,816.8 L664.0,816.8 L672.0,816.8 L680.0,816.8 L688.0,816.9 L696.0,816.9 L704.0,816.9 L712.0,816.9 L720.0,816.9 L728.0,816.9 L736.0,816.9 L744.0,816.9 L752.0,816.9" stroke="#ff0000"/>
<path d="M293.7,740.2 L298.6,728.0 L304.7,739.0" stroke="#ff0000"/>
<path d="M343.3,934.7 L349.6,944.0 L354.8,933.6" stroke="#ff0000"/>
<path d="M120.0,818.8 L128.0,819.0 L136.0,819.1 L144.0,819.2 L152.0,819.4 L160.0,819.6 L168.0,819.8 L176.0,820.0 L184.0,820.3 L192.0,820.6 L200.0,820.9 L208.0,821.3 L213.2,821.6 L216.0,821.8 L217.2,821.8 L221.2,822.1 L224.0,822.3 L225.2,822.4 L229.2,822.7 L232.0,822.9 L233.2,823.0 L237.2,823.3 L240.0,823.6 L241.2,823.7 L245.2,824.1 L248.0,824.4 L249.2,824.6 L253.2,825.1 L256.0,825.4 L257.2,825.6 L261.2,826.2 L264.0,826.7 L265.2,826.9 L269.2,827.6 L272.0,828.1 L273.2,828.4 L277.2,829.3 L280.0,829.9 L281.2,830.2 L285.2,831.3 L288.0,832.1 L288.2,832.2 L289.2,832.5 L289.7,832.7 L291.2,833.2 L292.7,833.7 L293.2,833.9 L294.2,834.2 L295.7,834.8 L296.0,834.9 L297.2,835.4 L298.7,836.0 L300.2,836.7 L301.2,837.1 L301.7,837.3 L303.2,838.0 L304.0,838.4 L304.7,838.8 L305.2,839.0 L306.2,839.5 L307.7,840.3 L309.2,841.1 L310.7,842.0 L312.0,842.8 L312.2,842.9 L313.2,843.5 L313.7,843.8 L315.2,844.8 L316.7,845.8 L317.2,846.2 L318.2,846.9 L319.7,848.0 L320.0,848.2 L321.2,849.2 L322.7,850.4 L324.2,851.6 L325.2,852.4 L325.7,852.9 L327.2,854.2 L328.0,854.9 L328.7,855.5 L329.2,856.0 L330.2,856.9 L331.7,858.4 L333.2,859.8 L334.7,861.3 L336.0,862.7 L336.2,862.9 L337.2,863.9 L337.7,864.4 L339.2,865.9 L340.7,867.5 L341.2,868.0 L342.2,869.0 L343.7,870.5 L344.0,870.8 L345.2,872.0 L346.7,873.5 L348.2,874.9 L349.2,875.7 L349.7,876.2 L351.2,877.4 L352.0,878.0 L352.7,878.5 L353.2,878.9 L354.2,879.5 L355.7,880.4 L357.2,881.1 L358.7,881.7 L360.0,882.1 L360.2,882.2 L361.2,882.3 L361.7,882.4 L363.2,882.5 L364.7,882.4 L365.2,882.3 L366.2,882.2 L367.7,881.7 L368.0,881.6 L369.2,881.1 L370.7,880.4 L372.2,879.5 L373.2,878.9 L373.7,878.5 L375.2,877.4 L376.0,876.7 L376.7,876.2 L377.2,875.7 L378.2,874.9 L379.7,873.5 L381.2,872.0 L382.7,870.5 L384.0,869.2 L384.2,869.0 L385.2,868.0 L385.7,867.5 L387.2,865.9 L388.7,864.4 L389.2,863.9 L390.2,862.9 L391.7,861.3 L392.0,861.0 L393.2,859.8 L394.7,858.4 L396.2,856.9 L397.2,856.0 L397.7,855.5 L399.2,854.2 L400.0,853.5 L400.7,852.9 L401.2,852.4 L402.2,851.6 L403.7,850.4 L405.2,849.2 L406.7,848.0 L408.0,847.1 L408.2,846.9 L409.2,846.2 L409.7,845.8 L411.2,844.8 L412.7,843.8 L413.2,843.5 L414.2,842.9 L415.7,842.0 L416.0,841.8 L417.2,841.1 L418.7,840.3 L420.2,839.5 L421.2,839.0 L421.7,838.8 L423.2,838.0 L424.0,837.6 L424.7,837.3 L425.2,837.1 L426.2,836.7 L427.7,836.0 L429.2,835.4 L430.7,834.8 L432.0,834.3 L432.2,834.2 L433.2,833.9 L433.7,833.7 L435.2,833.2 L436.7,832.7 L437.2,832.5 L438.2,832.2 L440.0,831.7 L441.2,831.3 L445.2,830.2 L448.0,829.5 L449.2,829.3 L453.2,828.4 L456.0,827.8 L457.2,827.6 L461.2,826.9 L464.0,826.4 L465.2,826.2 L469.2,825.6 L472.0,825.2 L473.2,825.1 L477.2,824.6 L480.0,824.3 L481.2,824.1 L485.2,823.7 L488.0,823.5 L489.2,823.3 L493.2,823.0 L496.0,822.8 L497.2,822.7 L501.2,822.4 L504.0,822.2 L505.2,822.1 L509.2,821.8 L512.0,821.7 L513.2,821.6 L520.0,821.2 L528.0,820.9 L536.0,820.5 L544.0,820.2 L552.0,820.0 L560.0,819.8 L568.0,819.6 L576.0,819.4 L584.0,819.2 L592.0,819.1 L600.0,818.9 L608.0,818.8 L616.0,818.7 L624.0,818.6 L632.0,818.5 L640.0,818.4 L648.0,818.3 L656.0,818.3 L664.0,818.2 L672.0,818.1 L680.0,818.1 L688.0,818.0 L696.0,818.0 L704.0,817.9 L712.0,817.9 L720.0,817.9 L728.0,817.8 L736.0,817.8 L744.0,817.8 L752.0,817.7" stroke="#0000ff"/>
<path d="M120.0,815.2 L122.2,815.2 L126.2,815.1 L128.0,815.0 L130.2,814.9 L134.2,814.8 L136.0,814.7 L138.2,814.7 L142.2,814.5 L144.0,814.4 L146.2,814.3 L150.2,814.2 L152.0,814.1 L154.2,814.0 L158.2,813.7 L160.0,813.6 L162.2,813.5 L166.2,813.2 L168.0,813.0 L170.2,812.9 L174.2,812.5 L176.0,812.3 L178.2,812.1 L182.2,811.6 L184.0,811.4 L186.2,811.1 L189.2,810.6 L190.2,810.4 L190.7,810.3 L192.0,810.1 L192.2,810.1 L193.7,809.8 L194.2,809.7 L195.2,809.5 L196.7,809.2 L198.2,808.8 L199.7,808.5 L200.0,808.4 L201.2,808.1 L202.2,807.8 L202.7,807.7 L204.2,807.2 L205.7,806.7 L206.2,806.6 L207.2,806.2 L208.0,805.9 L208.7,805.7 L210.2,805.1 L211.7,804.5 L213.2,803.8 L214.2,803.3 L214.7,803.0 L216.0,802.4 L216.2,802.2 L217.7,801.4 L218.2,801.1 L219.2,800.4 L220.7,799.4 L222.2,798.3 L223.7,797.0 L224.0,796.8 L225.2,795.7 L226.2,794.7 L226.7,794.2 L228.2,792.6 L229.7,790.8 L230.2,790.1 L231.2,788.8 L232.0,787.6 L232.7,786.6 L234.2,784.1 L235.7,781.4 L237.2,778.3 L238.2,776.1 L238.7,774.9 L240.0,771.6 L240.2,771.1 L241.7,766.8 L242.2,765.3 L243.2,762.1 L244.7,756.7 L246.2,750.7 L247.7,744.1 L248.0,742.7 L249.2,736.7 L250.2,731.4 L250.7,728.7 L252.2,719.9 L253.7,710.7 L254.2,707.5 L255.2,701.1 L256.0,695.9 L256.7,691.5 L258.2,682.4 L259.7,674.4 L261.2,668.0 L262.2,665.0 L262.7,663.9 L264.0,662.5 L264.2,662.5 L265.7,663.9 L266.2,665.0 L267.2,668.0 L268.7,674.4 L270.2,682.4 L271.7,691.5 L272.0,693.4 L273.2,701.1 L274.2,707.5 L274.7,710.7 L276.2,719.9 L277.7,728.7 L278.2,731.4 L279.2,736.7 L280.0,740.7 L280.7,744.1 L282.2,750.7 L283.7,756.7 L285.2,762.1 L286.2,765.3 L286.7,766.8 L288.0,770.6 L288.2,771.1 L289.7,774.9 L290.2,776.1 L291.2,778.3 L292.7,781.4 L294.2,784.1 L295.7,786.6 L296.0,787.0 L297.2,788.8 L298.2,790.1 L298.7,790.8 L300.2,792.6 L301.7,794.2 L302.2,794.7 L303.2,795.7 L304.0,796.4 L304.7,797.0 L306.2,798.3 L307.7,799.4 L309.2,800.4 L310.2,801.1 L310.7,801.4 L312.0,802.1 L312.2,802.2 L313.7,803.0 L314.2,803.3 L315.2,803.8 L316.7,804.5 L318.2,805.1 L319.7,805.7 L320.0,805.8 L321.2,806.2 L322.2,806.6 L322.7,806.7 L324.2,807.2 L325.7,807.7 L326.2,807.8 L327.2,808.1 L328.0,808.3 L328.7,808.5 L330.2,808.8 L331.7,809.2 L333.2,809.5 L334.2,809.7 L334.7,809.8 L336.0,810.0 L336.2,810.1 L337.7,810.3 L338.2,810.4 L339.2,810.6 L342.2,811.1 L344.0,811.3 L346.2,811.6 L350.2,812.1 L352.0,812.3 L354.2,812.5 L358.2,812.9 L360.0,813.0 L362.2,813.2 L366.2,813.5 L368.0,813.6 L370.2,813.7 L374.2,814.0 L376.0,814.0 L378.2,814.2 L382.2,814.3 L384.0,814.4 L386.2,814.5 L390.2,814.7 L392.0,814.7 L394.2,814.8 L398.2,814.9 L400.0,815.0 L402.2,815.1 L406.2,815.2 L408.0,815.2 L410.2,815.3 L414.2,815.3 L416.0,815.4 L424.0,815.5 L432.0,815.7 L440.0,815.8 L448.0,815.9 L456.0,816.0 L464.0,816.1 L472.0,816.1 L480.0,816.2 L488.0,816.3 L496.0,816.3 L504.0,816.3 L512.0,816.4 L520.0,816.4 L528.0,816.5 L536.0,816.5 L544.0,816.5 L552.0,816.5 L560.0,816.6 L568.0,816.6 L576.0,816.6 L584.0,816.6 L592.0,816.7 L600.0,816.7 L608.0,816.7 L616.0,816.7 L624.0,816.7 L632.0,816.7 L640.0,816.7 L648.0,816.7 L656.0,816.8 L664.0,816.8 L672.0,816.8 L680.0,816.8 L688.0,816.8 L696.0,816.8 L704.0,816.8 L712.0,816.8 L720.0,816.8 L728.0,816.8 L736.0,816.8 L744.0,816.8 L752.0,816.8" stroke="#0000ff"/>
<path d="M119.00,817.00 C132.50,817.25 179.83,817.85 200.00,818.50 C220.17,819.15 222.90,819.82 240.00,820.90 C257.10,821.98 285.20,822.92 302.60,825.00 C320.00,827.08 333.17,830.86 344.40,833.40 C355.63,835.94 363.23,837.73 370.00,840.25 C376.77,842.77 380.00,845.62 385.00,848.50 C390.00,851.38 395.00,854.38 400.00,857.50 C405.00,860.62 412.00,865.45 415.00,867.25 C418.00,869.05 415.25,868.12 418.00,868.30 C420.75,868.47 427.00,869.35 431.50,868.30 C436.00,867.25 440.25,864.55 445.00,862.00 C449.75,859.45 455.00,856.00 460.00,853.00 C465.00,850.00 470.00,846.75 475.00,844.00 C480.00,841.25 483.33,839.12 490.00,836.50 C496.67,833.88 507.08,830.18 515.00,828.25 C522.92,826.32 530.00,825.84 537.50,824.90 C545.00,823.96 549.58,823.67 560.00,822.60 C570.42,821.53 567.00,819.43 600.00,818.50 C633.00,817.57 731.67,817.25 758.00,817.00" stroke="#008000"/>
<path d="M120.0,815.4 L122.4,815.3 L126.4,815.2 L128.0,815.2 L130.4,815.1 L134.4,815.0 L136.0,815.0 L138.4,814.9 L142.4,814.8 L144.0,814.7 L146.4,814.6 L150.4,814.4 L152.0,814.4 L154.4,814.3 L158.4,814.1 L160.0,814.0 L162.4,813.9 L166.4,813.6 L168.0,813.5 L170.4,813.3 L174.4,813.0 L176.0,812.9 L178.4,812.7 L182.4,812.3 L184.0,812.1 L186.4,811.8 L190.4,811.3 L192.0,811.1 L193.4,810.9 L194.4,810.7 L194.9,810.7 L196.4,810.4 L197.9,810.1 L198.4,810.1 L199.4,809.9 L200.0,809.7 L200.9,809.6 L202.4,809.2 L203.9,808.9 L205.4,808.5 L206.4,808.3 L206.9,808.2 L208.0,807.9 L208.4,807.8 L209.9,807.3 L210.4,807.2 L211.4,806.9 L212.9,806.4 L214.4,805.8 L215.9,805.2 L216.0,805.2 L217.4,804.6 L218.4,804.2 L218.9,803.9 L220.4,803.2 L221.9,802.4 L222.4,802.2 L223.4,801.6 L224.0,801.2 L224.9,800.7 L226.4,799.7 L227.9,798.6 L229.4,797.4 L230.4,796.6 L230.9,796.1 L232.0,795.1 L232.4,794.7 L233.9,793.2 L234.4,792.6 L235.4,791.5 L236.9,789.6 L238.4,787.5 L239.9,785.3 L240.0,785.1 L241.4,782.8 L242.4,781.0 L242.9,780.1 L244.4,777.1 L245.9,773.8 L246.4,772.6 L247.4,770.1 L248.0,768.6 L248.9,766.1 L250.4,761.8 L251.9,757.1 L253.4,752.0 L254.4,748.5 L254.9,746.7 L256.0,742.6 L256.4,741.1 L257.9,735.3 L258.4,733.4 L259.4,729.6 L260.9,724.0 L262.4,718.9 L263.9,714.6 L264.0,714.3 L265.4,711.2 L266.4,709.7 L266.9,709.1 L268.4,708.4 L269.9,709.1 L270.4,709.7 L271.4,711.2 L272.0,712.4 L272.9,714.6 L274.4,718.9 L275.9,724.0 L277.4,729.6 L278.4,733.4 L278.9,735.3 L280.0,739.5 L280.4,741.1 L281.9,746.7 L282.4,748.5 L283.4,752.0 L284.9,757.1 L286.4,761.8 L287.9,766.1 L288.0,766.4 L289.4,770.1 L290.4,772.6 L290.9,773.8 L292.4,777.1 L293.9,780.1 L294.4,781.0 L295.4,782.8 L296.0,783.8 L296.9,785.3 L298.4,787.5 L299.9,789.6 L301.4,791.5 L302.4,792.6 L302.9,793.2 L304.0,794.3 L304.4,794.7 L305.9,796.1 L306.4,796.6 L307.4,797.4 L308.9,798.6 L310.4,799.7 L311.9,800.7 L312.0,800.7 L313.4,801.6 L314.4,802.2 L314.9,802.4 L316.4,803.2 L317.9,803.9 L318.4,804.2 L319.4,804.6 L320.0,804.9 L320.9,805.2 L322.4,805.8 L323.9,806.4 L325.4,806.9 L326.4,807.2 L326.9,807.3 L328.0,807.6 L328.4,807.8 L329.9,808.2 L330.4,808.3 L331.4,808.5 L332.9,808.9 L334.4,809.2 L335.9,809.6 L336.0,809.6 L337.4,809.9 L338.4,810.1 L338.9,810.1 L340.4,810.4 L341.9,810.7 L342.4,810.7 L343.4,810.9 L344.0,811.0 L346.4,811.3 L350.4,811.8 L352.0,812.0 L354.4,812.3 L358.4,812.7 L360.0,812.8 L362.4,813.0 L366.4,813.3 L368.0,813.5 L370.4,813.6 L374.4,813.9 L376.0,813.9 L378.4,814.1 L382.4,814.3 L384.0,814.3 L386.4,814.4 L390.4,814.6 L392.0,814.7 L394.4,814.8 L398.4,814.9 L400.0,814.9 L402.4,815.0 L406.4,815.1 L408.0,815.2 L410.4,815.2 L414.4,815.3 L416.0,815.4 L418.4,815.4 L424.0,815.5 L432.0,815.7 L440.0,815.8 L448.0,815.9 L456.0,816.0 L464.0,816.1 L472.0,816.1 L480.0,816.2 L488.0,816.3 L496.0,816.3 L504.0,816.3 L512.0,816.4 L520.0,816.4 L528.0,816.5 L536.0,816.5 L544.0,816.5 L552.0,816.5 L560.0,816.6 L568.0,816.6 L576.0,816.6 L584.0,816.6 L592.0,816.7 L600.0,816.7 L608.0,816.7 L616.0,816.7 L624.0,816.7 L632.0,816.7 L640.0,816.7 L648.0,816.7 L656.0,816.8 L664.0,816.8 L672.0,816.8 L680.0,816.8 L688.0,816.8 L696.0,816.8 L704.0,816.8 L712.0,816.8 L720.0,816.8 L728.0,816.8 L736.0,816.8 L744.0,816.8 L752.0,816.8" stroke="#008000"/>
</g>
<text transform="translate(105.6,31.7) scale(1,1.1)" text-anchor="end" font-size="30" fill="#000">10<tspan font-size="18" dy="-15.2">1</tspan></text>
<text transform="translate(105.6,127.0) scale(1,1.1)" text-anchor="end" font-size="30" fill="#000">10<tspan font-size="18" dy="-15.2">0</tspan></text>
<text transform="translate(105.6,222.3) scale(1,1.1)" text-anchor="end" font-size="30" fill="#000">10<tspan font-size="18" dy="-15.2">-1</tspan></text>
<text transform="translate(105.6,317.6) scale(1,1.1)" text-anchor="end" font-size="30" fill="#000">10<tspan font-size="18" dy="-15.2">-2</tspan></text>
<text transform="translate(105.6,412.9) scale(1,1.1)" text-anchor="end" font-size="30" fill="#000">10<tspan font-size="18" dy="-15.2">-3</tspan></text>
<text transform="translate(105.6,508.2) scale(1,1.1)" text-anchor="end" font-size="30" fill="#000">10<tspan font-size="18" dy="-15.2">-4</tspan></text>
<text transform="translate(118.7,1095.3) scale(1,1.07)" text-anchor="middle" font-size="30" fill="#000">40<tspan font-size="16.5" dy="-16.4">o</tspan><tspan dy="16.4" dx="1.5">C</tspan></text>
<text transform="translate(278.5,1095.3) scale(1,1.07)" text-anchor="middle" font-size="30" fill="#000">60<tspan font-size="16.5" dy="-16.4">o</tspan><tspan dy="16.4" dx="1.5">C</tspan></text>
<text transform="translate(438.3,1095.3) scale(1,1.07)" text-anchor="middle" font-size="30" fill="#000">80<tspan font-size="16.5" dy="-16.4">o</tspan><tspan dy="16.4" dx="1.5">C</tspan></text>
<text transform="translate(598.2,1095.3) scale(1,1.07)" text-anchor="middle" font-size="30" fill="#000">100<tspan font-size="16.5" dy="-16.4">o</tspan><tspan dy="16.4" dx="1.5">C</tspan></text>
<text transform="translate(758.0,1095.3) scale(1,1.07)" text-anchor="middle" font-size="30" fill="#000">120<tspan font-size="16.5" dy="-16.4">o</tspan><tspan dy="16.4" dx="1.5">C</tspan></text>
<text x="439" y="1142" text-anchor="middle" font-size="30.6" font-weight="bold" fill="#000">Temperature</text>
<text transform="translate(23.3,299.7) rotate(-90)" text-anchor="middle" font-size="32.5" font-weight="bold" fill="#000" textLength="262" lengthAdjust="spacingAndGlyphs">Resistivity (<tspan font-weight="normal" font-size="31">&#937;</tspan>&#183;cm)</text>
<text transform="translate(70,803.4) rotate(-90)" text-anchor="middle" font-size="33" font-weight="bold" fill="#000" textLength="304" lengthAdjust="spacingAndGlyphs">d(log<tspan font-weight="normal" font-style="italic" font-family="Liberation Serif">&#961;</tspan>)/d <tspan font-style="italic">T</tspan> (arb. unit)</text>
<text x="140" y="60.75" font-size="27.5" font-weight="bold" fill="#000">(a)</text>
<text x="140" y="582" font-size="27.5" font-weight="bold" fill="#000">(b)</text>
<text x="561.8" y="294.4" font-size="27" font-weight="bold" fill="#008000" letter-spacing="0.42">H<tspan font-size="15" dy="11.3">2</tspan><tspan dy="-11.3"> = 100 sccm</tspan></text>
<text x="564.5" y="359.9" font-size="27" font-weight="bold" fill="#0000ff" letter-spacing="0.42">H<tspan font-size="15" dy="11.3">2</tspan><tspan dy="-11.3"> = 50 sccm</tspan></text>
<text x="563.5" y="413.5" font-size="27" font-weight="bold" fill="#000" letter-spacing="0.3">Thermal</text>
<text x="563.7" y="496.4" font-size="27" font-weight="bold" fill="#ff0000" letter-spacing="0.42">H<tspan font-size="15" dy="11.3">2</tspan><tspan dy="-11.3"> = 30 sccm</tspan></text>
<text x="528.4" y="868.0" font-size="27" font-weight="bold" fill="#008000" letter-spacing="0.42">H<tspan font-size="15" dy="11.3">2</tspan><tspan dy="-11.3"> = 100 sccm</tspan></text>
<text x="396.4" y="919.3" font-size="27" font-weight="bold" fill="#0000ff" letter-spacing="0.42">H<tspan font-size="15" dy="11.3">2</tspan><tspan dy="-11.3"> = 50 sccm</tspan></text>
<text x="166" y="948.75" font-size="27" font-weight="bold" fill="#000" letter-spacing="0.3">Thermal</text>
<text x="397.4" y="983.0" font-size="27" font-weight="bold" fill="#ff0000" letter-spacing="0.42">H<tspan font-size="15" dy="11.3">2</tspan><tspan dy="-11.3"> = 30 sccm</tspan></text>
<g fill="none" stroke="#000" stroke-width="2">
<rect x="545.0" y="560.8" width="194.5" height="157.2" fill="#fff"/>
<line x1="561.0" y1="718.0" x2="561.0" y2="714.0"/>
<line x1="561.0" y1="560.8" x2="561.0" y2="564.8"/>
<line x1="581.4" y1="718.0" x2="581.4" y2="715.5"/>
<line x1="581.4" y1="560.8" x2="581.4" y2="563.3"/>
<line x1="601.9" y1="718.0" x2="601.9" y2="714.0"/>
<line x1="601.9" y1="560.8" x2="601.9" y2="564.8"/>
<line x1="622.3" y1="718.0" x2="622.3" y2="715.5"/>
<line x1="622.3" y1="560.8" x2="622.3" y2="563.3"/>
<line x1="642.7" y1="718.0" x2="642.7" y2="714.0"/>
<line x1="642.7" y1="560.8" x2="642.7" y2="564.8"/>
<line x1="663.1" y1="718.0" x2="663.1" y2="715.5"/>
<line x1="663.1" y1="560.8" x2="663.1" y2="563.3"/>
<line x1="683.5" y1="718.0" x2="683.5" y2="714.0"/>
<line x1="683.5" y1="560.8" x2="683.5" y2="564.8"/>
<line x1="704.0" y1="718.0" x2="704.0" y2="715.5"/>
<line x1="704.0" y1="560.8" x2="704.0" y2="563.3"/>
<line x1="724.4" y1="718.0" x2="724.4" y2="714.0"/>
<line x1="724.4" y1="560.8" x2="724.4" y2="564.8"/>
<line x1="545.0" y1="705.7" x2="549.0" y2="705.7"/>
<line x1="739.5" y1="705.7" x2="735.5" y2="705.7"/>
<line x1="545.0" y1="692.5" x2="547.5" y2="692.5"/>
<line x1="739.5" y1="692.5" x2="737.0" y2="692.5"/>
<line x1="545.0" y1="679.4" x2="549.0" y2="679.4"/>
<line x1="739.5" y1="679.4" x2="735.5" y2="679.4"/>
<line x1="545.0" y1="666.2" x2="547.5" y2="666.2"/>
<line x1="739.5" y1="666.2" x2="737.0" y2="666.2"/>
<line x1="545.0" y1="653.0" x2="549.0" y2="653.0"/>
<line x1="739.5" y1="653.0" x2="735.5" y2="653.0"/>
<line x1="545.0" y1="639.9" x2="547.5" y2="639.9"/>
<line x1="739.5" y1="639.9" x2="737.0" y2="639.9"/>
<line x1="545.0" y1="626.7" x2="549.0" y2="626.7"/>
<line x1="739.5" y1="626.7" x2="735.5" y2="626.7"/>
<line x1="545.0" y1="613.5" x2="547.5" y2="613.5"/>
<line x1="739.5" y1="613.5" x2="737.0" y2="613.5"/>
<line x1="545.0" y1="600.3" x2="549.0" y2="600.3"/>
<line x1="739.5" y1="600.3" x2="735.5" y2="600.3"/>
<line x1="545.0" y1="587.2" x2="547.5" y2="587.2"/>
<line x1="739.5" y1="587.2" x2="737.0" y2="587.2"/>
<line x1="545.0" y1="574.0" x2="549.0" y2="574.0"/>
<line x1="739.5" y1="574.0" x2="735.5" y2="574.0"/>
<line x1="545.0" y1="560.8" x2="547.5" y2="560.8"/>
<line x1="739.5" y1="560.8" x2="737.0" y2="560.8"/>
</g>
<polyline points="561.0,661.2 610.0,622.2 642.7,624.3 724.4,583.1" fill="none" stroke="#333" stroke-width="1"/>
<polyline points="561.0,689.2 610.0,680.5 642.7,689.2 724.4,686.7" fill="none" stroke="#3333ff" stroke-width="1"/>
<rect x="557.2" y="657.7" width="7.5" height="7" fill="#fff" stroke="#000" stroke-width="2"/>
<rect x="606.3" y="618.7" width="7.5" height="7" fill="#fff" stroke="#000" stroke-width="2"/>
<rect x="639.0" y="620.8" width="7.5" height="7" fill="#fff" stroke="#000" stroke-width="2"/>
<rect x="720.6" y="579.6" width="7.5" height="7" fill="#fff" stroke="#000" stroke-width="2"/>
<circle cx="561.0" cy="689.2" r="4.1" fill="#fff" stroke="#0000ff" stroke-width="1.8"/>
<circle cx="610.0" cy="680.5" r="4.1" fill="#fff" stroke="#0000ff" stroke-width="1.8"/>
<circle cx="642.7" cy="689.2" r="4.1" fill="#fff" stroke="#0000ff" stroke-width="1.8"/>
<circle cx="724.4" cy="686.7" r="4.1" fill="#fff" stroke="#0000ff" stroke-width="1.8"/>
<text x="540" y="713.0" text-anchor="end" font-size="20" fill="#000">55<tspan font-size="12" dy="-10.5">o</tspan><tspan dy="10.5">C</tspan></text>
<text x="540" y="686.7" text-anchor="end" font-size="20" fill="#000">60<tspan font-size="12" dy="-10.5">o</tspan><tspan dy="10.5">C</tspan></text>
<text x="540" y="660.3" text-anchor="end" font-size="20" fill="#000">65<tspan font-size="12" dy="-10.5">o</tspan><tspan dy="10.5">C</tspan></text>
<text x="540" y="634.0" text-anchor="end" font-size="20" fill="#000">70<tspan font-size="12" dy="-10.5">o</tspan><tspan dy="10.5">C</tspan></text>
<text x="540" y="607.6" text-anchor="end" font-size="20" fill="#000">75<tspan font-size="12" dy="-10.5">o</tspan><tspan dy="10.5">C</tspan></text>
<text x="540" y="581.3" text-anchor="end" font-size="20" fill="#000">80<tspan font-size="12" dy="-10.5">o</tspan><tspan dy="10.5">C</tspan></text>
<text x="583" y="737.5" text-anchor="end" font-size="20" fill="#000">Thermal</text>
<text x="601.9" y="737.5" text-anchor="middle" font-size="20" fill="#000">25</text>
<text x="642.7" y="737.5" text-anchor="middle" font-size="20" fill="#000">50</text>
<text x="683.5" y="737.5" text-anchor="middle" font-size="20" fill="#000">75</text>
<text x="724.4" y="737.5" text-anchor="middle" font-size="20" fill="#000">100</text>
<text x="542.8" y="763.8" font-size="19" font-weight="bold" fill="#000" letter-spacing="0.6">H<tspan dy="5.6" dx="1">2</tspan><tspan dy="-5.6"> Flow Rate (sccm)</tspan></text>
<text transform="translate(480.4,644.5) rotate(-90)" text-anchor="middle" font-size="21" font-weight="bold" fill="#000">Transition Temp.</text>
<text x="575" y="598.75" font-size="19" font-weight="bold" fill="#000" letter-spacing="0.5">Heating</text>
<text x="647" y="673.5" font-size="19" font-weight="bold" fill="#0000ff" letter-spacing="0.5">Cooling</text>
</svg></body></html>
